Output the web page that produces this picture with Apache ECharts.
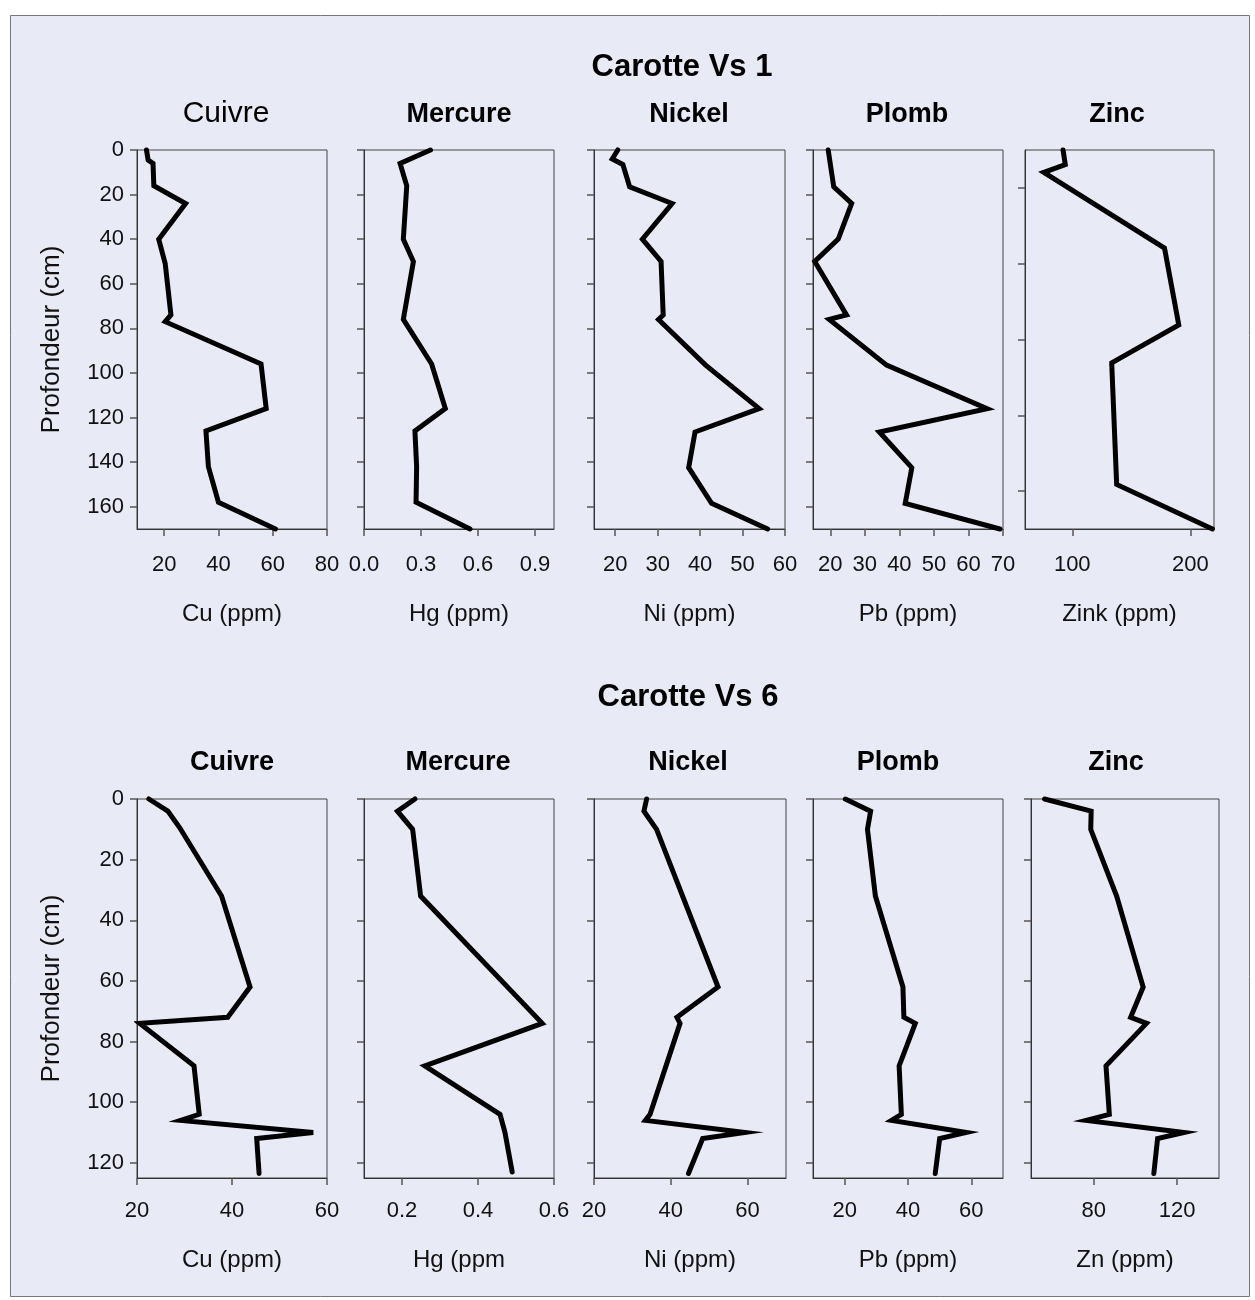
<!DOCTYPE html>
<html>
<head>
<meta charset="utf-8">
<script src="https://cdn.jsdelivr.net/npm/echarts@6/dist/echarts.min.js"></script>
<style>
html,body{margin:0;padding:0;background:#fff;}
#chart{width:1255px;height:1300px;}
</style>
</head>
<body>
<div id="chart"></div>
<script>
// ---- Carotte Vs 1 ----
var vs1CuDepth = [0, 4.5, 6, 16, 24, 40, 51, 74, 77, 96, 116, 126, 142, 158, 170];
var vs1Cu      = [13.5, 14.1, 15.9, 16.2, 27.9, 18, 20.4, 22.5, 20.4, 55.7, 57.6, 35.4, 36.3, 40, 61];
var vs1HgDepth = [0, 6, 16, 40, 50, 76, 96, 116, 126, 142, 158, 170];
var vs1Hg      = [0.35, 0.19, 0.225, 0.207, 0.26, 0.207, 0.356, 0.428, 0.268, 0.277, 0.274, 0.558];
var vs1NiDepth = [0, 4, 6.5, 16.5, 24, 40, 50, 74, 76, 96.5, 116, 126.5, 142.5, 158.5, 170];
var vs1Ni      = [20.6, 19.3, 21.8, 23.4, 33.4, 26.4, 30.8, 31.3, 30.2, 41.3, 53.9, 38.8, 37.3, 42.7, 55.9];
var vs1PbDepth = [0, 16.5, 24, 40, 50, 74, 76, 96.5, 116, 126.5, 142.5, 158.5, 170];
var vs1Pb      = [19.4, 21, 26.2, 22.3, 15.5, 24.7, 19.7, 36.3, 65.4, 34.2, 43.6, 41.7, 69.1];
var vs1ZnDepth = [0, 6.5, 10, 44, 78.5, 95.5, 150, 170];
var vs1Zn      = [92.2, 94.1, 75.9, 178.1, 190.2, 133.4, 137.6, 218.7];

// ---- Carotte Vs 6 ----
var vs6CuDepth = [0, 4, 9.5, 32, 62, 72, 74, 88, 104, 106, 110, 112, 123.5];
var vs6Cu      = [22.5, 26.5, 29, 37.8, 43.8, 39.1, 20.6, 32, 33.1, 29.2, 57.1, 45.2, 45.7];
var vs6HgDepth = [0, 4, 10, 32, 74, 88, 104, 110, 123];
var vs6Hg      = [0.234, 0.188, 0.228, 0.249, 0.569, 0.26, 0.458, 0.471, 0.49];
var vs6NiDepth = [0, 4, 10, 62, 72, 74, 104, 106, 110, 112, 123.5];
var vs6Ni      = [33.7, 33, 36.3, 52.3, 41.6, 42.4, 34.6, 33.4, 59.3, 48.3, 44.6];
var vs6PbDepth = [0, 4, 10, 32, 62, 72, 74, 88, 104, 106, 110, 112, 123.5];
var vs6Pb      = [20.2, 28.2, 27.2, 29.7, 38.4, 38.7, 42.3, 37.2, 37.9, 34.8, 58.4, 50, 48.6];
var vs6ZnDepth = [0, 4, 10, 32, 62, 72, 74, 88, 104, 106, 110, 112, 123.5];
var vs6Zn      = [56.5, 78.8, 78.6, 91, 103.7, 97.7, 105.3, 85.9, 87.5, 76.4, 123.3, 110.6, 108.8];

// ---- titles / axes text ----
var mainTitles = ['Carotte Vs 1', 'Carotte Vs 6'];
var panelTitles = ['Cuivre', 'Mercure', 'Nickel', 'Plomb', 'Zinc'];
var vs1AxisNames = ['Cu (ppm)', 'Hg (ppm)', 'Ni (ppm)', 'Pb (ppm)', 'Zink (ppm)'];
var vs6AxisNames = ['Cu (ppm)', 'Hg (ppm', 'Ni (ppm)', 'Pb (ppm)', 'Zn (ppm)'];
var yAxisName = 'Profondeur (cm)';

// x-axis ranges and tick labels
var vs1XMin = [10, 0, 15, 15, 60];
var vs1XMax = [80, 1.0, 60, 70, 220];
var vs1XTicks = [[20, 40, 60, 80], [0, 0.3, 0.6, 0.9], [20, 30, 40, 50, 60], [20, 30, 40, 50, 60, 70], [100, 200]];
var vs6XMin = [20, 0.1, 20, 10, 50];
var vs6XMax = [60, 0.6, 70, 70, 140];
var vs6XTicks = [[20, 40, 60], [0.2, 0.4, 0.6], [20, 40, 60], [20, 40, 60], [80, 120]];
var vs1YMax = 170;
var vs6YMax = 125;
var vs1YTicks = [0, 20, 40, 60, 80, 100, 120, 140, 160];
var vs1ZnYTicks = [17, 51, 85, 119, 153];
var vs6YTicks = [0, 20, 40, 60, 80, 100, 120];

var FONT = 'Liberation Sans, Arial, sans-serif';
var gridLefts1 = [137, 364, 594, 813, 1025];
var gridWidths1 = [190, 190, 191, 190, 189];
var gridLefts6 = [137, 364, 594, 813, 1031];
var gridWidths6 = [190, 190, 192, 190, 188];
var titleX1 = [226, 459, 689, 907, 1117];
var titleX6 = [232, 458, 688, 898, 1116];

function pairs(xs, ys) { return xs.map(function (x, i) { return [x, ys[i]]; }); }

var grids = [], xAxes = [], yAxes = [], series = [], titles = [];
var rows = [
  {top: 150, h: 379, lefts: gridLefts1, widths: gridWidths1, xmin: vs1XMin, xmax: vs1XMax, xticks: vs1XTicks,
   names: vs1AxisNames, ymax: vs1YMax, yticks: vs1YTicks, titleX: titleX1,
   data: [pairs(vs1Cu, vs1CuDepth), pairs(vs1Hg, vs1HgDepth), pairs(vs1Ni, vs1NiDepth), pairs(vs1Pb, vs1PbDepth), pairs(vs1Zn, vs1ZnDepth)],
   titleY: 114, mainY: 67, mainX: 682, labMargin: 25, nameGap: 73},
  {top: 799, h: 379, lefts: gridLefts6, widths: gridWidths6, xmin: vs6XMin, xmax: vs6XMax, xticks: vs6XTicks,
   names: vs6AxisNames, ymax: vs6YMax, yticks: vs6YTicks, titleX: titleX6,
   data: [pairs(vs6Cu, vs6CuDepth), pairs(vs6Hg, vs6HgDepth), pairs(vs6Ni, vs6NiDepth), pairs(vs6Pb, vs6PbDepth), pairs(vs6Zn, vs6ZnDepth)],
   titleY: 762, mainY: 697, mainX: 688, labMargin: 22, nameGap: 70}
];

rows.forEach(function (r, ri) {
  titles.push({
    text: mainTitles[ri], left: r.mainX, top: r.mainY - 15, textAlign: 'center', padding: 0,
    textStyle: {fontFamily: FONT, fontSize: 31, fontWeight: 'bold', color: '#000'}
  });
  for (var p = 0; p < 5; p++) {
    var gi = ri * 5 + p;
    var isHg = (p === 1);
    grids.push({left: r.lefts[p], top: r.top, width: r.widths[p], height: r.h, show: true,
      borderColor: '#444', borderWidth: 1, backgroundColor: 'transparent'});
    var normalTitle = (ri === 0 && p === 0);
    titles.push({
      text: panelTitles[p], left: r.titleX[p], top: r.titleY - (normalTitle ? 15 : 13), padding: 0,
      textAlign: 'center',
      textStyle: {fontFamily: FONT, fontSize: normalTitle ? 30 : 27, fontWeight: normalTitle ? 'normal' : 'bold', color: '#000'}
    });
    xAxes.push({
      gridIndex: gi, type: 'value', min: r.xmin[p], max: r.xmax[p], position: 'bottom',
      axisLine: {show: true, onZero: false, lineStyle: {color: '#333', width: 1}},
      axisTick: {show: true, length: 7, inside: false, customValues: r.xticks[p], lineStyle: {color: '#555', width: 1.5}},
      axisLabel: {show: true, customValues: r.xticks[p], margin: r.labMargin, fontFamily: FONT, fontSize: 22, color: '#111',
        hideOverlap: false,
        formatter: isHg ? function (v) { return Number(v).toFixed(1); } : function (v) { return String(v); }},
      splitLine: {show: false},
      name: r.names[p], nameLocation: 'middle', nameGap: r.nameGap,
      nameTextStyle: {fontFamily: FONT, fontSize: 24, color: '#111'}
    });
    var yt = (ri === 0 && p === 4) ? vs1ZnYTicks : r.yticks;
    yAxes.push({
      gridIndex: gi, type: 'value', inverse: true, min: 0, max: r.ymax,
      axisLine: {show: true, onZero: false, lineStyle: {color: '#333', width: 1}},
      axisTick: {show: true, length: 7, inside: false, customValues: yt, lineStyle: {color: '#555', width: 1.5}},
      axisLabel: {show: p === 0, customValues: r.yticks, margin: 13, fontFamily: FONT, fontSize: 22, color: '#111'},
      splitLine: {show: false},
      name: p === 0 ? yAxisName : '', nameLocation: 'middle', nameRotate: 90, nameGap: 72,
      nameTextStyle: {fontFamily: FONT, fontSize: 26, color: '#111'}
    });
    series.push({
      type: 'line', xAxisIndex: gi, yAxisIndex: gi, data: r.data[p],
      showSymbol: false, symbol: 'none', clip: false, silent: true, animation: false,
      lineStyle: {color: '#000', width: 5, join: 'miter', cap: 'round'}
    });
  }
});

var chart = echarts.init(document.getElementById('chart'), null, {renderer: 'canvas'});
chart.setOption({
  animation: false,
  backgroundColor: '#ffffff',
  graphic: [{
    type: 'rect', z: -10, silent: true,
    shape: {x: 10.5, y: 15.5, width: 1239, height: 1281},
    style: {fill: '#E8EAF6', stroke: '#777', lineWidth: 1}
  }],
  title: titles,
  grid: grids,
  xAxis: xAxes,
  yAxis: yAxes,
  series: series
});
</script>
</body>
</html>
